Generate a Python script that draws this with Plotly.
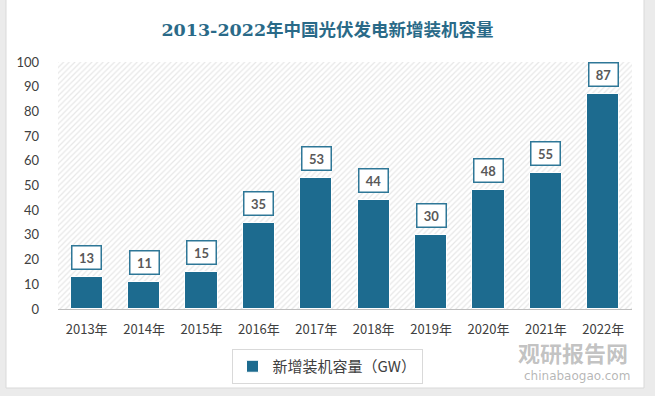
import plotly.graph_objects as go

years = ["2013年", "2014年", "2015年", "2016年", "2017年", "2018年", "2019年", "2020年", "2021年", "2022年"]
values = [13, 11, 15, 35, 53, 44, 30, 48, 55, 87]
series_name = "新增装机容量（GW）"
title = "2013-2022年中国光伏发电新增装机容量"
y_max = 100

bar_color = "#1d6b8f"

fig = go.Figure()

# hatched plot-area background
fig.add_trace(go.Bar(
    x=years, y=[y_max] * len(years), width=1.0,
    marker=dict(color="white", line=dict(width=0),
                pattern=dict(shape="/", fgcolor="#cfcfcf", bgcolor="white", size=4, solidity=0.3)),
    hoverinfo="skip", showlegend=False,
))

fig.add_trace(go.Bar(
    x=years, y=values, name=series_name, width=0.56,
    marker=dict(color=bar_color, line=dict(color="white", width=1)),
))

for xv, yv in zip(years, values):
    fig.add_annotation(
        x=xv, y=yv, text=f"<b>{yv}</b>", showarrow=False,
        yanchor="bottom", yshift=7,
        font=dict(family="Lato, DejaVu Sans", size=13, color="#595959"),
        bgcolor="white", bordercolor="#2e7797", borderwidth=1.5, borderpad=3,
        width=22, height=16,
    )

# card background / frame
fig.add_shape(type="rect", xref="paper", yref="paper",
              x0=-52 / 574, x1=(644 - 58) / 574, y0=-(388 - 309) / 247, y1=(309 + 2) / 247,
              fillcolor="white", line=dict(color="#d9d9d9", width=1), layer="below")

# watermark
fig.add_annotation(xref="paper", yref="paper", x=(630 - 58) / 574, y=-(352 - 309) / 247,
                   text="<b>观研报告网</b>", showarrow=False, xanchor="right", yanchor="middle",
                   font=dict(family="Noto Sans CJK SC", size=22, color="rgba(120,120,120,0.45)"))
fig.add_annotation(xref="paper", yref="paper", x=(632 - 58) / 574, y=-(376 - 309) / 247,
                   text="chinabaogao.com", showarrow=False, xanchor="right", yanchor="middle",
                   font=dict(family="DejaVu Sans", size=12, color="rgba(120,120,120,0.55)"))

fig.update_layout(
    width=655, height=396,
    margin=dict(l=58, r=23, t=62, b=87),
    paper_bgcolor="#ebebeb",
    plot_bgcolor="white",
    barmode="overlay",
    bargap=0,
    title=dict(text=f"<b>{title}</b>", x=0.5, xanchor="center", y=1 - 30 / 396, yanchor="middle",
               font=dict(family="DejaVu Serif, Noto Sans CJK SC", size=17.5, color="#2a6a88")),
    xaxis=dict(showline=True, linecolor="#bfbfbf", linewidth=1, ticks="", ticklabelstandoff=8,
               tickfont=dict(family="Noto Sans CJK SC", size=13, color="#404040"), showgrid=False),
    yaxis=dict(range=[0, y_max], dtick=10, showgrid=False, zeroline=False, showline=False,
               ticks="", ticklabelstandoff=18,
               tickfont=dict(family="Lato, DejaVu Sans", size=13, color="#404040")),
    legend=dict(orientation="h", x=(327 - 58) / 574, xanchor="center", y=-(349 - 309) / 247, yanchor="top",
                bgcolor="white", bordercolor="#d9d9d9", borderwidth=1,
                font=dict(family="Noto Sans CJK SC", size=15, color="#404040"),
                itemwidth=30),
    showlegend=True,
)

fig.write_html("out.html", config={"displayModeBar": False},
               post_script="document.body.style.margin='0';document.body.style.overflow='hidden';")
